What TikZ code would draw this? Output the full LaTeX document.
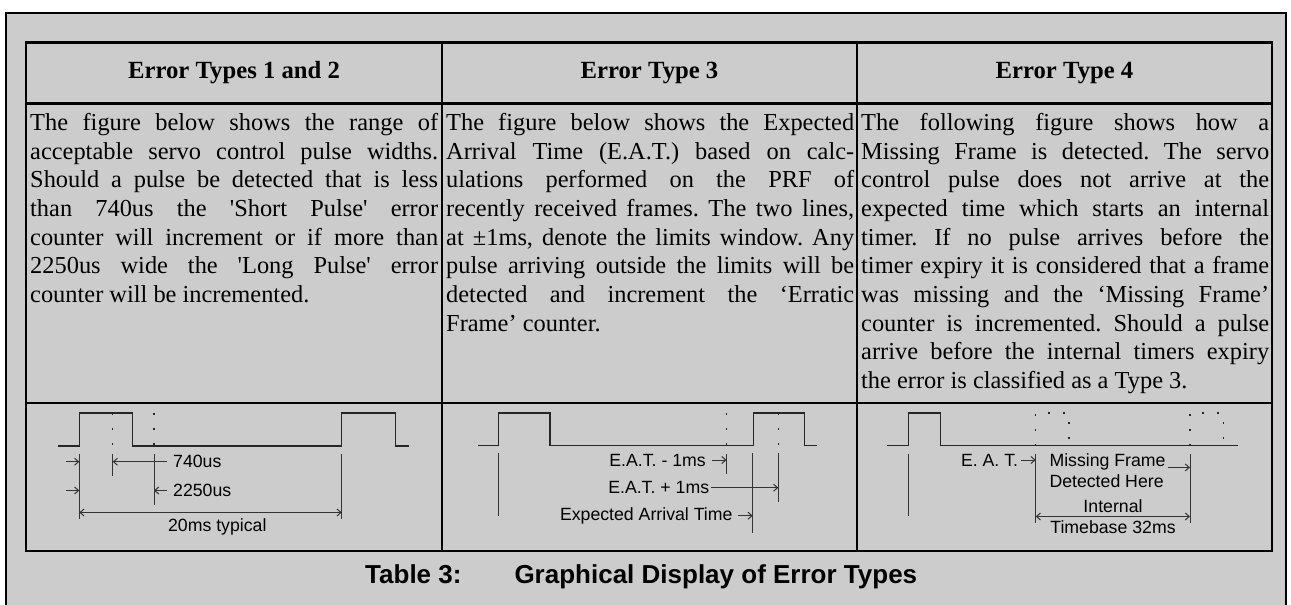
\documentclass[tikz,border=0pt]{standalone}
\usepackage{fontspec}
\setmainfont{Liberation Serif}
\newfontfamily\figfont{Liberation Sans}
\usetikzlibrary{arrows.meta}
\definecolor{panelgray}{gray}{0.8}
\hyphenpenalty=10000
\hbadness=10000
\frenchspacing

\begin{document}
\begin{tikzpicture}[x=1pt,y=-1pt,
	frame/.style={line width=2pt},
	grid/.style={line width=2.4pt},
	head/.style={font=\bfseries\fontsize{24.7}{28}\selectfont, inner sep=0pt},
	cell/.style={anchor=north west, inner sep=0pt, text width=408pt, align=justify,
		font=\fontsize{24.4}{28.7}\selectfont},
	lbl/.style={font=\figfont\fontsize{17.7}{20.7}\selectfont, inner sep=0pt},
	wave/.style={line width=1.3pt, black!85},
	ghost/.style={wave, dash pattern=on 2pt off 13pt},
	dimln/.style={line width=1pt, black!80},
	arr/.style={dimln, -{Straight Barb[length=4pt,width=7pt]}},
	dblarr/.style={dimln, {Straight Barb[length=4pt,width=7pt]}-{Straight Barb[length=4pt,width=7pt]}}]
	\useasboundingbox (0,0) rectangle (1291,605);
	\fill[white] (0,0) rectangle (1291,605);
	\fill[panelgray] (6,13) rectangle (1286,605);
	\draw[frame] (6,612) -- (6,13) -- (1286,13) -- (1286,612);
	% table
	\draw[grid] (26,42.6) rectangle (1272,551);
	\draw[grid] (26,103.5) -- (1272,103.5);
	\draw[grid] (26,403) -- (1272,403);
	\draw[grid] (442,42.6) -- (442,551);
	\draw[grid] (857,42.6) -- (857,551);
	\node[head] (h1) at (234,73) {Error Types 1 and 2};
	\node[head] (h2) at (649.5,73) {Error Type 3};
	\node[head] (h3) at (1064.5,73) {Error Type 4};
	\node[cell] (t1) at (30,113) {The figure below shows the range of\linebreak
		acceptable servo control pulse widths.\linebreak
		Should a pulse be detected that is less\linebreak
		than 740us the \textquotesingle Short Pulse\textquotesingle\ error\linebreak
		counter will increment or if more than\linebreak
		2250us wide the \textquotesingle Long Pulse\textquotesingle\ error\linebreak
		counter will be incremented.};
	\node[cell] (t2) at (446,113) {The figure below shows the Expected\linebreak
		Arrival Time (E.A.T.) based on calc-\linebreak
		ulations performed on the PRF of\linebreak
		recently received frames. The two lines,\linebreak
		at ±1ms, denote the limits window. Any\linebreak
		pulse arriving outside the limits will be\linebreak
		detected and increment the ‘Erratic\linebreak
		Frame’ counter.};
	\node[cell] (t3) at (861,113) {The following figure shows how a\linebreak
		Missing Frame is detected. The servo\linebreak
		control pulse does not arrive at the\linebreak
		expected time which starts an internal\linebreak
		timer. If no pulse arrives before the\linebreak
		timer expiry it is considered that a frame\linebreak
		was missing and the ‘Missing Frame’\linebreak
		counter is incremented. Should a pulse\linebreak
		arrive before the internal timers expiry\linebreak
		the error is classified as a Type 3.};
	% types 1 and 2
	\draw[wave] (58,446) -- (79.3,446) -- (79.3,413) -- (132.7,413) -- (132.7,446)
		-- (341.7,446) -- (341.7,413) -- (395.7,413) -- (395.7,446) -- (409,446);
	\draw[ghost] (112.7,413) -- (112.7,446);
	\draw[ghost] (154,413) -- (154,446);
	\coordinate (p0) at (79.3,454);
	\coordinate (p740) at (112.7,454);
	\coordinate (p2250) at (154,454);
	\coordinate (p20) at (341.7,454);
	\draw[dimln] (p0) -- ++(0,65);
	\draw[dimln] (p740) -- ++(0,22);
	\draw[dimln] (p2250) -- ++(0,51);
	\draw[dimln] (p20) -- ++(0,65);
	\node[lbl, anchor=west] (n740) at (173,461.7) {740us};
	\node[lbl, anchor=west] (n2250) at (173,490.5) {2250us};
	\node[lbl] (n20) at (217.3,526.5) {20ms typical};
	\draw[arr] (66,461.7) -- (p0 |- n740);
	\draw[arr] (66,490.5) -- (p0 |- n2250);
	\draw[arr] ([xshift=-6pt]n740.west) -- (p740 |- n740);
	\draw[arr] ([xshift=-6pt]n2250.west) -- (p2250 |- n2250);
	\draw[dblarr] ([yshift=14pt]p0 |- n20) -- ([yshift=14pt]p20 |- n20);
	% type 3
	\draw[wave] (478.3,445.7) -- (498.3,445.7) -- (498.3,413) -- (550,413) -- (550,445.7)
		-- (753.3,445.7) -- (753.3,413) -- (804.3,413) -- (804.3,445.7) -- (816.7,445.7);
	\draw[ghost] (726.7,413) -- (726.7,445.7);
	\draw[ghost] (778.3,413) -- (778.3,445.7);
	\coordinate (q0) at (498.3,453.3);
	\coordinate (qm) at (726.5,454.3);
	\coordinate (qe) at (752.7,453.3);
	\coordinate (qp) at (778.3,453.3);
	\draw[dimln] (q0) -- ++(0,62.4);
	\draw[dimln] (qm) -- ++(0,20);
	\draw[dimln] (qe) -- ++(0,80);
	\draw[dimln] (qp) -- ++(0,48.4);
	\node[lbl, anchor=east] (eatm) at (706,460) {E.A.T. - 1ms};
	\node[lbl, anchor=east] (eatp) at (709.3,487.7) {E.A.T. + 1ms};
	\node[lbl, anchor=east] (eat) at (732.7,515.7) {Expected Arrival Time};
	\draw[arr] ([xshift=6pt]eatm.east) -- (qm |- eatm);
	\draw[arr] ([xshift=2pt]eatp.east) -- (qp |- eatp);
	\draw[arr] ([xshift=5.6pt]eat.east) -- (qe |- eat);
	% type 4
	\draw[wave] (886.7,445.7) -- (908.3,445.7) -- (908.3,413) -- (940.7,413) -- (940.7,445.7)
		-- (1238.3,445.7);
	\draw[ghost] (1035.7,445.7) -- (1035.7,413) -- (1069,413) -- (1069,445.7);
	\draw[ghost] (1190,445.7) -- (1190,413) -- (1223.3,413) -- (1223.3,445.7);
	\coordinate (r0) at (908.3,454);
	\coordinate (reat) at (1035.7,454.3);
	\coordinate (rdet) at (1190,454.3);
	\draw[dimln] (r0) -- ++(0,61.7);
	\draw[dimln] (reat) -- ++(0,69);
	\draw[dimln] (rdet) -- ++(0,69);
	\node[lbl, anchor=east] (eat4) at (1018.3,460) {E. A. T.};
	\node[lbl, anchor=north west, align=left] (miss) at (1049.3,453.4) {Missing Frame\\Detected Here};
	\node[lbl, align=center] (tb) at (1113,516.5) {Internal\\Timebase 32ms};
	\coordinate (mfe) at ([shift={(2,14)}]miss.north east);
	\draw[arr] (eat4.east) ++(3pt,0) -- (reat |- eat4);
	\draw[arr] (mfe) -- (rdet |- mfe);
	\draw[dblarr] (reat |- tb) -- (rdet |- tb);
	% caption
	\node[font=\figfont\bfseries\fontsize{26}{30}\selectfont, anchor=west, inner sep=0pt]
		(cap) at (365,577) {Table 3:\hspace{53pt}Graphical Display of Error Types};
\end{tikzpicture}
\end{document}
